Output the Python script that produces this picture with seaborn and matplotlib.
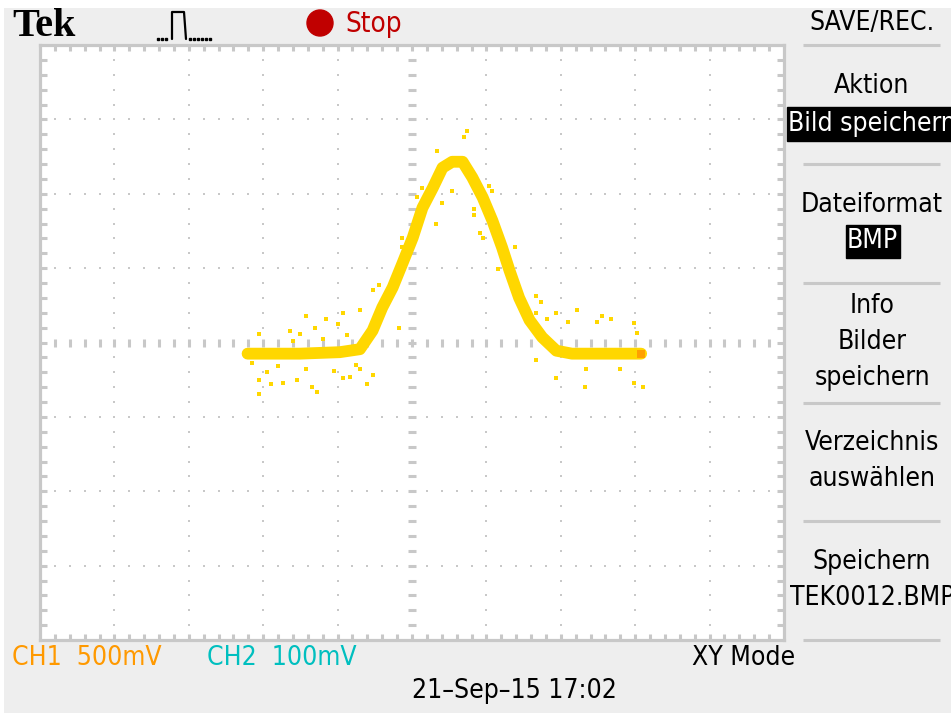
import numpy as np
import pandas as pd
import matplotlib
matplotlib.use("Agg")
import matplotlib.pyplot as plt
import seaborn as sns
from matplotlib.patches import Rectangle, Circle

sns.set_style("white")
plt.rcParams['font.family'] = ['DejaVu Sans']

# ---------------- data (divisions, XY mode) ----------------
trace_x = [-2.21, -1.51, -0.97, -0.70, -0.53, -0.40, -0.26, -0.13, 0.01, 0.14,
           0.28, 0.41, 0.54, 0.68, 0.81, 0.95, 1.08, 1.21, 1.31, 1.44,
           1.58, 1.75, 1.94, 2.15, 3.08]
trace_y = [-0.15, -0.15, -0.13, -0.09, 0.16, 0.47, 0.74, 1.06, 1.41, 1.81,
           2.08, 2.35, 2.43, 2.43, 2.22, 1.95, 1.64, 1.28, 0.97, 0.60,
           0.30, 0.07, -0.11, -0.15, -0.15]

noise_x = [-2.05, -2.05, -1.42, -1.64, -1.51, -1.15, -0.93, -0.70, -0.53, -0.45,
           -0.13, -0.13, 0.07, 0.14, 0.34, 0.70, 0.74, 0.54, 0.40, 0.32,
           0.84, 0.84, 1.04, 1.08, 0.92, 0.95, 1.39, 1.15, 1.67, 1.74,
           1.67, 1.82, 1.94, 2.10, 2.22, 2.48, 2.56, 2.68, 2.99, 2.34,
           2.32, 1.94, 2.79, 3.11, 2.99, -1.34, -1.28, -2.05, -1.89, -0.61,
           -0.53, -0.84, -0.93, -1.55, -1.74, -1.42, 1.67, -0.17, -0.70, 3.03,
           -1.95, -1.80, -1.60, -1.20, -1.05, -0.88, -0.75, -2.15, -1.30, -1.00]
noise_y = [0.12, -0.69, 0.36, 0.16, 0.12, 0.32, 0.40, 0.44, 0.70, 0.77,
           1.40, 1.28, 1.96, 2.08, 2.58, 2.76, 2.84, 2.04, 1.88, 1.60,
           1.80, 1.72, 2.11, 2.04, 1.47, 1.40, 1.28, 0.99, 0.63, 0.54,
           0.39, 0.32, 0.39, 0.28, 0.44, 0.28, 0.35, 0.32, 0.26, -0.35,
           -0.60, -0.48, -0.36, -0.60, -0.54, -0.60, -0.66, -0.51, -0.56, -0.56,
           -0.44, -0.47, -0.48, -0.51, -0.54, -0.35, -0.24, 0.20, -0.35, 0.13,
           -0.40, -0.32, 0.02, 0.05, -0.38, 0.10, -0.30, -0.28, 0.20, 0.25]

end_x = [3.08]
end_y = [-0.16]

ch1_label = "CH1  500mV"
ch2_label = "CH2  100mV"
date_label = "21\u2013Sep\u201315 17:02"
menu_title = "SAVE/REC."

GOLD = "#FFD700"
GRAY = "#C8C8C8"
BG = "#EEEEEE"

# ---------------- figure ----------------
W, H = 951, 717
fig = plt.figure(figsize=(W / 100, H / 100), dpi=100)
fig.patch.set_facecolor("white")

# pixel overlay axes
bg = fig.add_axes([0, 0, 1, 1])
bg.set_xlim(0, W)
bg.set_ylim(H, 0)
bg.axis("off")
bg.add_patch(Rectangle((4, 8), W - 4, H - 12, facecolor=BG, edgecolor="none", zorder=0))

# graticule axes: pixel box 40..784 x 45..640
L, R, T, B = 40, 784, 45, 640
ax = fig.add_axes([L / W, (H - B) / H, (R - L) / W, (B - T) / H])
ax.set_facecolor("white")
ax.set_xlim(-5, 5)
ax.set_ylim(-4, 4)
for s in ax.spines.values():
    s.set_color(GRAY)
    s.set_linewidth(2.3)

minor = np.round(np.arange(-4.8, 4.81, 0.2), 2)
minor_y = np.round(np.arange(-3.8, 3.81, 0.2), 2)
ax.set_xticks(minor)
ax.set_yticks(minor_y)
ax.set_xticklabels([])
ax.set_yticklabels([])
ax.tick_params(axis="x", direction="in", length=4.0, width=2.2, color=GRAY,
               top=True, bottom=True, pad=0)
ax.tick_params(axis="y", direction="in", length=5.0, width=2.2, color=GRAY,
               left=True, right=True, pad=0)

# dotted grid lines
full_x = np.round(np.arange(-5.0, 5.01, 0.2), 2)
full_y = np.round(np.arange(-4.0, 4.01, 0.2), 2)
for gx in [-4, -3, -2, -1, 1, 2, 3, 4]:
    ax.plot(np.full_like(full_y, gx), full_y, ls="none", marker="s", ms=2.1,
            mew=0, color=GRAY, zorder=1, clip_on=False)
for gy in [-3, -2, -1, 1, 2, 3]:
    ax.plot(full_x, np.full_like(full_x, gy), ls="none", marker="s", ms=2.1,
            mew=0, color=GRAY, zorder=1, clip_on=False)
# centre cross with dashes
ax.plot(minor, np.zeros_like(minor), ls="none", marker="|", ms=5.8, mew=2.2,
        color=GRAY, zorder=1)
ax.plot(np.zeros_like(minor_y), minor_y, ls="none", marker="_", ms=5.8, mew=2.2,
        color=GRAY, zorder=1)

# trace
df = pd.DataFrame({"x": trace_x, "y": trace_y})
sns.lineplot(data=df, x="x", y="y", ax=ax, color=GOLD, lw=8.5, sort=False,
             estimator=None, zorder=3)
nd = pd.DataFrame({"x": noise_x, "y": noise_y})
sns.scatterplot(data=nd, x="x", y="y", ax=ax, color=GOLD, marker="s", s=10,
                linewidth=0, zorder=3)
ed = pd.DataFrame({"x": end_x, "y": end_y})
sns.scatterplot(data=ed, x="x", y="y", ax=ax, color="#FFA000", marker="s", s=40,
                linewidth=0, zorder=4)
ax.set_xlabel("")
ax.set_ylabel("")
ax.set_xlim(-5, 5)
ax.set_ylim(-4, 4)

# ---------------- header ----------------
bg.text(12, 27, "Tek", fontsize=29, fontweight="bold", family="Liberation Serif",
        ha="left", va="center", color="black")
# pulse icon
bg.plot([172, 172, 184, 186], [39, 12, 12, 39], color="black", lw=1.6)
bg.plot(np.arange(158, 170, 4), np.full(3, 39), ls="none", marker="s", ms=1.6, color="black")
bg.plot(np.arange(190, 212, 4), np.full(6, 39), ls="none", marker="s", ms=1.6, color="black")
bg.add_patch(Circle((320, 23), 13, color="#C00000"))
bg.text(345, 24, "Stop", fontsize=20, color="#C00000", ha="left", va="center",
        fontstretch="condensed")

# ---------------- right menu ----------------
FS = 19
def mtext(y, s, color="black", **kw):
    bg.text(872, y, s, fontsize=FS, ha="center", va="center", color=color,
            fontstretch="condensed", **kw)

mtext(23, menu_title)
for sy in [45, 164, 283, 403, 521, 640]:
    bg.plot([803, 940], [sy, sy], color=GRAY, lw=2.2, solid_capstyle="butt")
mtext(86, "Aktion")
bg.add_patch(Rectangle((787, 107), 164, 34, color="black"))
mtext(124, "Bild speichern", color="white")
mtext(205, "Dateiformat")
bg.add_patch(Rectangle((846, 225), 54, 33, color="black"))
mtext(241, "BMP", color="white")
mtext(306, "Info")
mtext(342, "Bilder")
mtext(378, "speichern")
mtext(443, "Verzeichnis")
mtext(479, "auswählen")
mtext(562, "Speichern")
mtext(598, "TEK0012.BMP")

# ---------------- footer ----------------
bg.text(12, 658, ch1_label, fontsize=FS, color="#FF9900", ha="left", va="center",
        fontstretch="condensed")
bg.text(207, 658, ch2_label, fontsize=FS, color="#00BFBF", ha="left", va="center",
        fontstretch="condensed")
bg.text(692, 658, "XY Mode", fontsize=FS, color="black", ha="left", va="center",
        fontstretch="condensed")
bg.text(514, 691, date_label, fontsize=FS, color="black", ha="center", va="center",
        fontstretch="condensed")

fig.savefig("out.png", dpi=100)
